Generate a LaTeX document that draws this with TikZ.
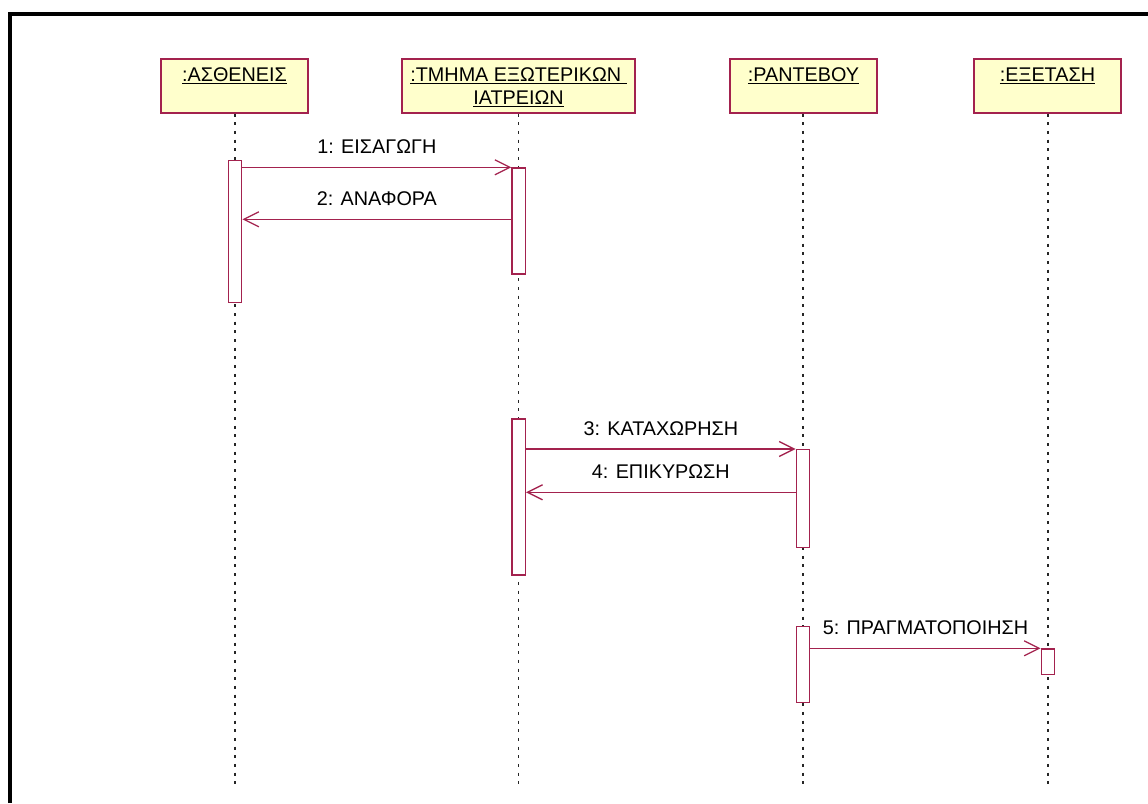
\documentclass[tikz,border=0pt]{standalone}
\usepackage{fontspec}
\setmainfont{Liberation Sans}
\usetikzlibrary{arrows.meta}

\definecolor{umlline}{HTML}{A3224E}
\definecolor{umlfill}{HTML}{FFFFCC}

% underline drawn as a rule below the baseline
\newcommand\objname[1]{\setbox0\hbox{#1}\leavevmode\rlap{\raisebox{-3pt}{\rule{\wd0}{1.3pt}}}\box0}

\tikzset{
  head/.style={draw=umlline, fill=umlfill, line width=1.3pt, rectangle,
               minimum height=54pt, inner sep=0pt},
  headtext/.style={anchor=north, inner sep=0pt, align=center, text=black},
  act/.style={draw=umlline, fill=white, line width=1.3pt, rectangle,
              minimum width=13.5pt, inner sep=0pt, anchor=north},
  lifeline/.style={line width=1.3pt, draw=black!85, dash pattern=on 3pt off 5.67pt},
  msg/.style={draw=umlline, line width=1.3pt,
              -{Straight Barb[length=15pt, width=15pt, line width=1.3pt]}},
  msglabel/.style={midway, anchor=base, yshift=14pt, inner sep=0pt, text=black}
}

\begin{document}
\begin{tikzpicture}[x=1pt, y=-1pt, font=\fontsize{19.8}{23}\selectfont]
  \useasboundingbox[fill=white] (0,0) rectangle (1148,803);

  % frame
  \draw[line width=4pt, miter limit=10] (10,803) -- (10,14) -- (1148,14);

  % object heads
  \node[head, minimum width=147pt] (pat) at (234.5,86) {};
  \node[head, minimum width=233pt] (dept) at (518.5,86) {};
  \node[head, minimum width=147pt] (appt) at (803.5,86) {};
  \node[head, minimum width=147pt] (exam) at (1047.5,86) {};

  \node[headtext] (patT) at ([yshift=-9pt]pat.north) {\objname{:ΑΣΘΕΝΕΙΣ}};
  \node[headtext] (deptT) at ([yshift=-9pt]dept.north) {\objname{:ΤΜΗΜΑ ΕΞΩΤΕΡΙΚΩΝ }\\\objname{ΙΑΤΡΕΙΩΝ}};
  \node[headtext] (apptT) at ([yshift=-9pt]appt.north) {\objname{:ΡΑΝΤΕΒΟΥ}};
  \node[headtext] (examT) at ([yshift=-9pt]exam.north) {\objname{:ΕΞΕΤΑΣΗ}};

  % lifeline ends
  \coordinate (patEnd) at (235,785);
  \coordinate (deptEnd) at (518.7,785);
  \coordinate (apptEnd) at (803,785);
  \coordinate (examEnd) at (1048,785);

  \draw[lifeline] (pat.south -| patEnd) -- (patEnd);
  \draw[lifeline] (dept.south -| deptEnd) -- (deptEnd);
  \draw[lifeline] (appt.south -| apptEnd) -- (apptEnd);
  \draw[lifeline] (exam.south -| examEnd) -- (examEnd);

  % activations
  \node[act, minimum height=141.5pt] (a1) at (235,160) {};
  \node[act, minimum height=106pt] (t1) at (518.7,167.3) {};
  \node[act, minimum height=156pt] (t2) at (518.7,418.3) {};
  \node[act, minimum height=97.7pt] (r1) at (803,449) {};
  \node[act, minimum height=75.7pt] (r2) at (803,626) {};
  \node[act, minimum height=25.7pt] (e1) at (1048,648.3) {};

  % heights of the return messages
  \coordinate (m2) at (0,219.3);
  \coordinate (m4) at (0,492.3);

  % messages
  \draw[msg] (a1.east |- t1.north west) -- node[msglabel] {1: ΕΙΣΑΓΩΓΗ} (t1.north west);
  \draw[msg] (t1.west |- m2) -- node[msglabel] {2: ΑΝΑΦΟΡΑ} (a1.east |- m2);
  \draw[msg] (t2.east |- r1.north west) -- node[msglabel] {3: ΚΑΤΑΧΩΡΗΣΗ} (r1.north west);
  \draw[msg] (r1.west |- m4) -- node[msglabel] {4: ΕΠΙΚΥΡΩΣΗ} (t2.east |- m4);
  \draw[msg] (r2.east |- e1.north west) -- node[msglabel] {5: ΠΡΑΓΜΑΤΟΠΟΙΗΣΗ} (e1.north west);
\end{tikzpicture}
\end{document}
